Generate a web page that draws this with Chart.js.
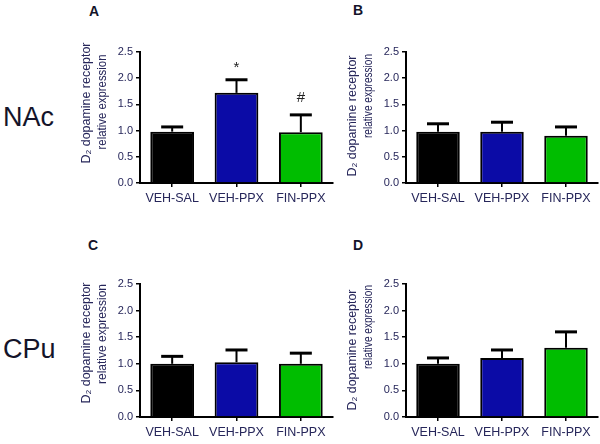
<!DOCTYPE html>
<html>
<head>
<meta charset="utf-8">
<script src="https://cdn.jsdelivr.net/npm/chart.js@4.4.1/dist/chart.umd.min.js"></script>
<style>
  body { margin: 0; background: #fff; width: 600px; height: 444px; position: relative; overflow: hidden;
         font-family: "Liberation Sans", Arial, sans-serif; }
  .panel { position: absolute; }
  .txt { position: absolute; line-height: 1; color: #14142a; white-space: nowrap; }
</style>
</head>
<body>
<div class="txt" style="left:3px;top:104px;font-size:27px">NAc</div>
<div class="txt" style="left:3px;top:336px;font-size:27px">CPu</div>
<div class="txt" style="left:89px;top:4px;font-size:14px;font-weight:bold">A</div>
<div class="txt" style="left:353px;top:3px;font-size:14px;font-weight:bold">B</div>
<div class="txt" style="left:88px;top:238px;font-size:14px;font-weight:bold">C</div>
<div class="txt" style="left:353px;top:238px;font-size:14px;font-weight:bold">D</div>

<script>
// data
const groups = ['VEH-SAL', 'VEH-PPX', 'FIN-PPX']
const yTicks = [0, 0.5, 1.0, 1.5, 2.0, 2.5]
const yLabel = ['D\u2082 dopamine receptor', 'relative expression']

const nacD1Values = [0.98, 1.72, 0.97]
const nacD1Errors = [0.09, 0.25, 0.33]
const nacD1Marks = ['', '*', '#']

const nacD2Values = [0.98, 0.98, 0.90]
const nacD2Errors = [0.15, 0.18, 0.17]
const nacD2Marks = ['', '', '']

const cpuD1Values = [1.00, 1.03, 1.00]
const cpuD1Errors = [0.14, 0.23, 0.20]
const cpuD1Marks = ['', '', '']

const cpuD2Values = [1.00, 1.11, 1.30]
const cpuD2Errors = [0.11, 0.15, 0.30]
const cpuD2Marks = ['', '', '']

const barColors = ['#000000', '#0b0ba6', '#00bd00']
const textColor = '#26265a'
const FONT = '"Liberation Sans", Arial, sans-serif'

const Y_W = 64   // room left of the y axis
const PAD_T = 16
const X_H = 32

// error bars + significance marks
const errorPlugin = {
    id: 'errorBars',
    afterDatasetsDraw(chart, args, opts) {
        const { ctx, scales: { y } } = chart
        const meta = chart.getDatasetMeta(0)
        ctx.save()
        ctx.strokeStyle = '#000'
        meta.data.forEach((bar, i) => {
            const v = opts.values[i]
            const top = y.getPixelForValue(v + opts.errors[i])
            const base = y.getPixelForValue(v)
            ctx.lineWidth = 2
            ctx.beginPath()
            ctx.moveTo(bar.x, base)
            ctx.lineTo(bar.x, top)
            ctx.stroke()
            ctx.lineWidth = 3
            ctx.beginPath()
            ctx.moveTo(bar.x - 11, top)
            ctx.lineTo(bar.x + 11, top)
            ctx.stroke()
            if (opts.marks[i]) {
                ctx.fillStyle = '#222'
                ctx.font = '15px ' + FONT
                ctx.textAlign = 'center'
                ctx.textBaseline = 'middle'
                ctx.fillText(opts.marks[i], bar.x, top - (opts.marks[i] === '*' ? 12 : 17))
            }
        })
        ctx.restore()
    }
}

// two line rotated y title, placed by hand like the original
const yTitlePlugin = {
    id: 'yTitle',
    afterDraw(chart, args, opts) {
        const { ctx, chartArea } = chart
        ctx.save()
        ctx.fillStyle = textColor
        ctx.font = '13px ' + FONT
        ctx.textBaseline = 'middle'
        ctx.textAlign = 'center'
        yLabel.forEach((line, i) => {
            ctx.save()
            ctx.translate(chartArea.left - (i === 0 ? 54 : 38), chartArea.top + opts.centers[i])
            ctx.rotate(-Math.PI / 2)
            ctx.fillText(line, 0, 0, i === 0 ? 121 : opts.width2)
            ctx.restore()
        })
        ctx.restore()
    }
}

function makePanel(box, values, errors, marks, titleCenters, width2) {
    const canvas = document.createElement('canvas')
    const left = box.left - Y_W
    const top = box.top - PAD_T
    const w = box.right - left + 2
    const h = box.bottom - top + X_H
    canvas.className = 'panel'
    canvas.style.left = left + 'px'
    canvas.style.top = top + 'px'
    canvas.style.width = w + 'px'
    canvas.style.height = h + 'px'
    canvas.width = w
    canvas.height = h
    document.body.appendChild(canvas)

    new Chart(canvas.getContext('2d'), {
        type: 'bar',
        data: {
            labels: groups,
            datasets: [{
                data: values,
                backgroundColor: barColors,
                borderColor: '#000',
                borderWidth: 2,
                barPercentage: 0.68,
                categoryPercentage: 1
            }]
        },
        options: {
            responsive: false,
            animation: false,
            devicePixelRatio: 1,
            layout: { padding: { top: PAD_T, right: 2, left: 0, bottom: 0 } },
            plugins: {
                legend: { display: false },
                tooltip: { enabled: false },
                errorBars: { values, errors, marks },
                yTitle: { centers: titleCenters, width2 }
            },
            scales: {
                y: {
                    min: 0,
                    max: 2.5,
                    afterBuildTicks: s => { s.ticks = yTicks.map(v => ({ value: v })) },
                    afterFit: s => { s.width = Y_W },
                    ticks: {
                        callback: v => v.toFixed(1),
                        color: textColor,
                        font: { family: FONT, size: 11 },
                        padding: 3
                    },
                    grid: { display: true, drawOnChartArea: false, tickLength: 4, color: '#000', lineWidth: 1.5 },
                    border: { color: '#000', width: 2 }
                },
                x: {
                    afterFit: s => { s.height = X_H },
                    ticks: {
                        color: textColor,
                        font: { family: FONT, size: 12.5 },
                        padding: 4,
                        maxRotation: 0
                    },
                    grid: { display: true, drawOnChartArea: false, offset: false, tickLength: 4, color: '#000', lineWidth: 1.5 },
                    border: { color: '#000', width: 2 }
                }
            }
        },
        plugins: [errorPlugin, yTitlePlugin]
    })
}

makePanel({ left: 140, right: 333, top: 52, bottom: 183 }, nacD1Values, nacD1Errors, nacD1Marks, [51, 50], 95)
makePanel({ left: 406, right: 598, top: 52, bottom: 183 }, nacD2Values, nacD2Errors, nacD2Marks, [64, 44], 84)
makePanel({ left: 140, right: 333, top: 284, bottom: 417 }, cpuD1Values, cpuD1Errors, cpuD1Marks, [59, 50], 100)
makePanel({ left: 406, right: 598, top: 284, bottom: 417 }, cpuD2Values, cpuD2Errors, cpuD2Marks, [66, 43], 84)
</script>
</body>
</html>
